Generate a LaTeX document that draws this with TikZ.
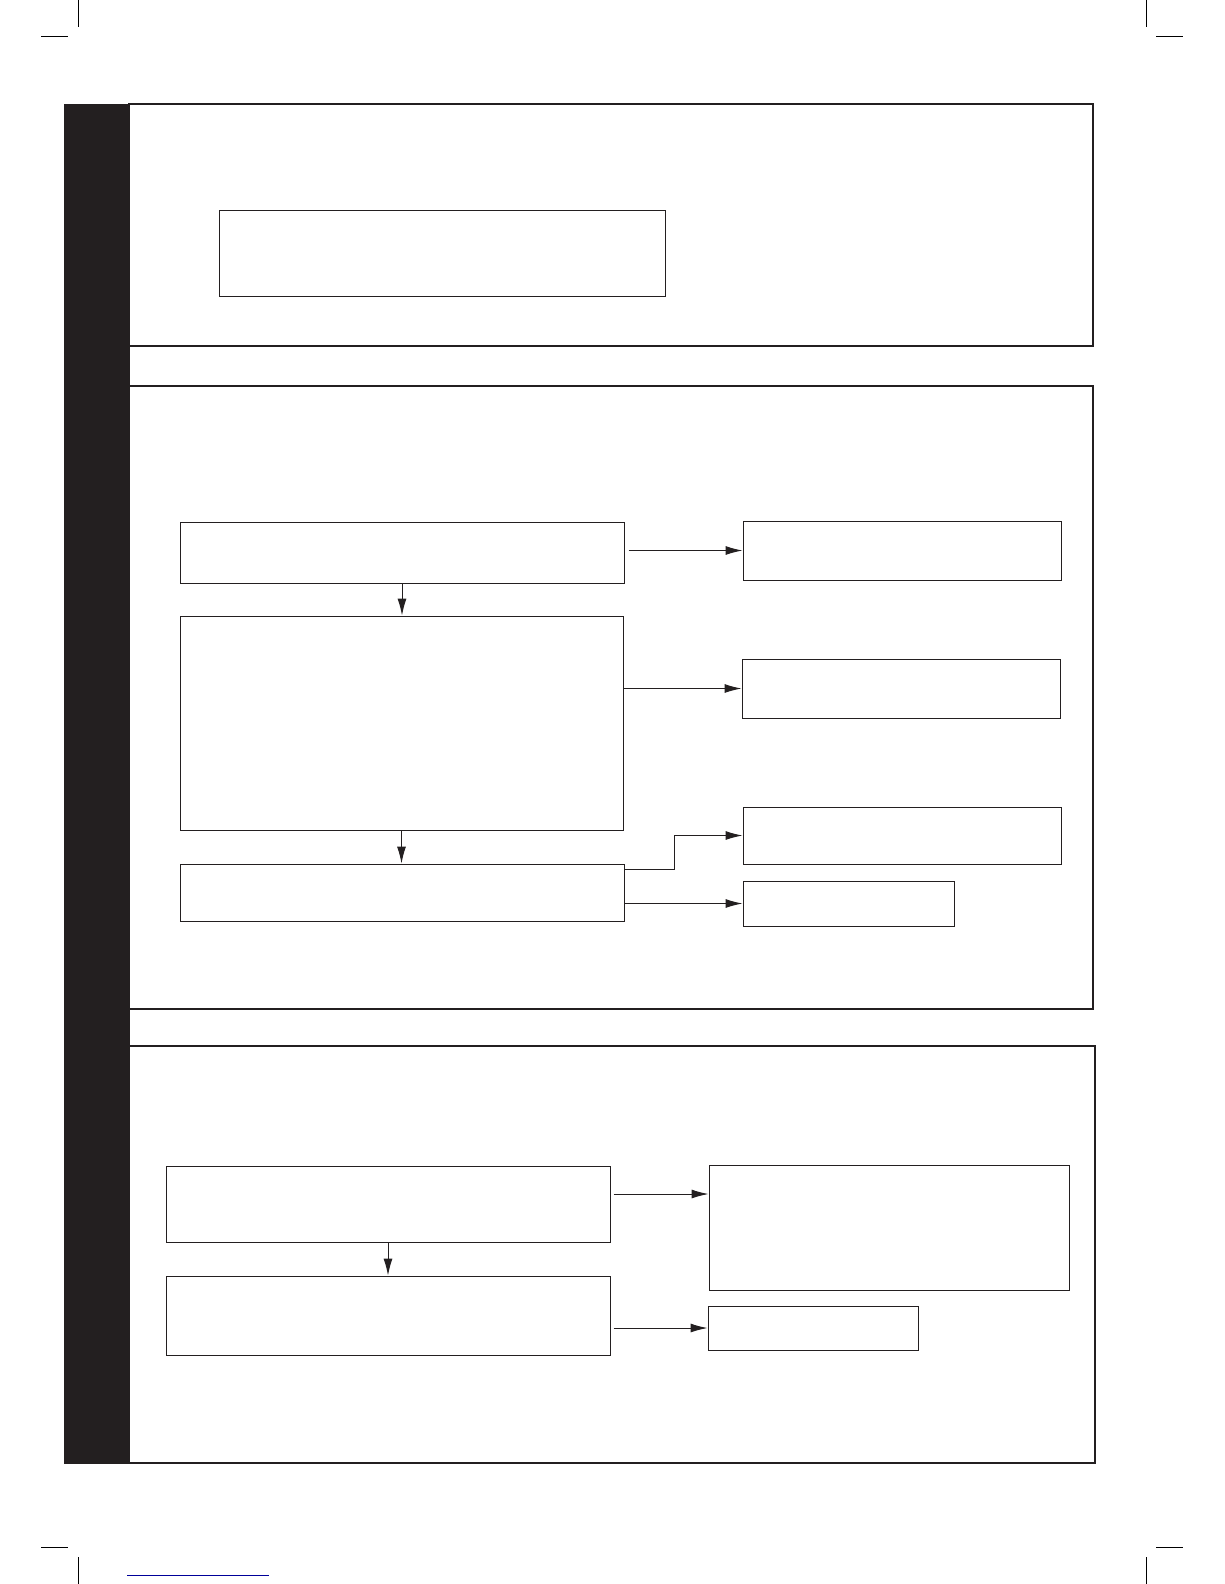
\documentclass[tikz,border=0pt]{standalone}
\usepackage{tikz}
\usetikzlibrary{arrows.meta,calc}
\definecolor{bardark}{HTML}{231F20}
\tikzset{
  box/.style={draw=bardark, line width=1pt, inner sep=0pt, fill=white},
  arr/.style={draw=bardark, line width=1pt, -{Latex[length=17pt,width=9pt]}},
  panel/.style={draw=bardark, line width=1.2pt},
  crop/.style={draw=black, line width=1pt}
}

\begin{document}
\begin{tikzpicture}[x=1pt, y=-1pt]
				%%%%% START %%%%%
				\useasboundingbox (0,0) rectangle (1224,1584);
				
				% crop marks
				\draw[crop] (78,0) -- (78,27);
				\draw[crop] (41,37) -- (68,37);
				\draw[crop] (1146,0) -- (1146,27);
				\draw[crop] (1156,37) -- (1183,37);
				\draw[crop] (78,1557) -- (78,1584);
				\draw[crop] (41,1547) -- (68,1547);
				\draw[crop] (1146,1557) -- (1146,1584);
				\draw[crop] (1156,1547) -- (1183,1547);
				\draw[draw=blue!60!black, line width=1pt] (127,1575) -- (269,1575);
				
				% side bar and panels
				\draw[fill=bardark, draw=bardark] (64,104) rectangle (129,1463);
				\draw[panel] (129,104) rectangle (1093,346);
				\draw[panel] (129,386) rectangle (1093,1009);
				\draw[draw=bardark, line width=2.4pt] (129,1009) -- (1093,1009);
				\draw[panel] (129,1046) rectangle (1095,1463);
				
				% first panel
				\node[box, minimum width=446pt, minimum height=86pt] (top) at (442,253) {};
				
				% second panel
				\node[box, minimum width=444pt, minimum height=61pt] (b1) at (402,552.5) {};
				\node[box, minimum width=443pt, minimum height=214pt] (b2) at (401.5,723) {};
				\node[box, minimum width=444pt, minimum height=57pt] (b3) at (402,892.5) {};
				\node[box, minimum width=318pt, minimum height=59pt] (r1) at (902,550.5) {};
				\node[box, minimum width=318pt, minimum height=59pt] (r2) at (901,688.5) {};
				\node[box, minimum width=318pt, minimum height=57pt] (r3) at (902,835.5) {};
				\node[box, minimum width=211pt, minimum height=45pt] (r4) at (848.5,903.5) {};
				
				\draw[arr] ([xshift=4pt]b1.east |- r1.west) -- (r1.west);
				\draw[arr] (b1.south) -- (b1.south |- b2.north);
				\draw[arr] (b2.east |- r2.west) -- (r2.west);
				\draw[arr] (b2.south) -- (b2.south |- b3.north);
				\draw[arr] ([yshift=-6pt]b3.north east) -- ++(50,0) |- (r3.west);
				\draw[arr] (b3.east |- r4.west) -- (r4.west);
				
				% third panel
				\node[box, minimum width=444pt, minimum height=76pt] (c1) at (388,1204) {};
				\node[box, minimum width=444pt, minimum height=79pt] (c2) at (388,1315.5) {};
				\node[box, minimum width=360pt, minimum height=125pt] (s1) at (889,1227.5) {};
				\node[box, minimum width=210pt, minimum height=44pt] (s2) at (813,1328) {};
				
				\draw[arr] ([xshift=3pt,yshift=10pt]c1.east) coordinate (c1out) -- (c1out -| s1.west);
				\draw[arr] (c1.south) -- (c1.south |- c2.north);
				\draw[arr] ([xshift=3pt]c2.east |- s2.west) -- (s2.west);
				%%%%% END %%%%%
\end{tikzpicture}
\end{document}
